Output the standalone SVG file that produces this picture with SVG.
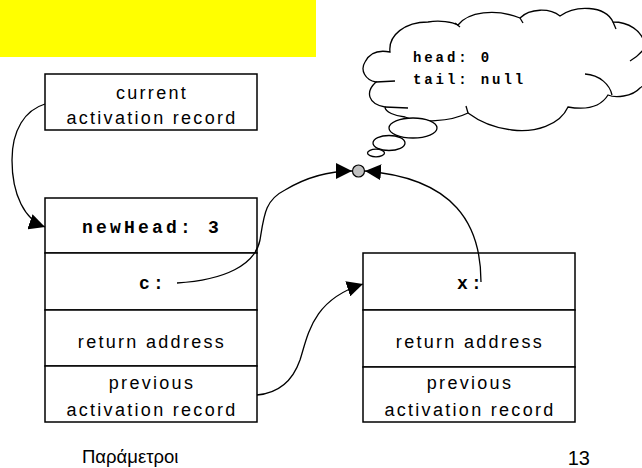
<svg xmlns="http://www.w3.org/2000/svg" width="642" height="468" viewBox="0 0 642 468">
  <style>
    .box { fill: #ffffff; stroke: #000000; stroke-width: 1.5; }
    .sans { font-family: "Liberation Sans", Arial, sans-serif; font-size: 18px; letter-spacing: 2.3px; fill: #000000; text-anchor: middle; }
    .mono { font-family: "Liberation Mono", "Courier New", monospace; font-size: 18px; font-weight: bold; letter-spacing: 3.2px; fill: #000000; }
    .monos { font-family: "Liberation Mono", "Courier New", monospace; font-size: 14px; font-weight: bold; letter-spacing: 2.9px; fill: #000000; }
    .conn { fill: none; stroke: #000000; stroke-width: 1.3; }
    .cloud { fill: #ffffff; stroke: #000000; stroke-width: 1.3; }
    .hook { fill: none; stroke: #000000; stroke-width: 1.3; }
    .foot { font-family: "Liberation Sans", Arial, sans-serif; fill: #000000; }
  </style>
  <defs>
    <marker id="arrow" markerUnits="userSpaceOnUse" markerWidth="16" markerHeight="16" viewBox="0 0 15 15" refX="15" refY="7.5" orient="auto">
      <path d="M0,0 L15,7.5 L0,15 Z" fill="#000000"/>
    </marker>
  </defs>

  <g id="title-bar">
    <rect x="0" y="0" width="316" height="57" fill="#ffff00"/>
  </g>

  <g id="current-record">
    <rect class="box" x="45" y="74" width="212" height="56"/>
    <text class="sans" x="152" y="99">current</text>
    <text class="sans" x="152" y="124">activation record</text>
  </g>

  <g id="left-frame">
    <rect class="box" x="45" y="198" width="212" height="55"/>
    <text class="mono" x="82" y="233">newHead: 3</text>
    <rect class="box" x="45" y="253" width="212" height="57"/>
    <text class="mono" x="139" y="289">c:</text>
    <rect class="box" x="45" y="310" width="212" height="56"/>
    <text class="sans" x="152" y="348">return address</text>
    <rect class="box" x="45" y="366" width="212" height="56"/>
    <text class="sans" x="152" y="389">previous</text>
    <text class="sans" x="152" y="416">activation record</text>
  </g>

  <g id="right-frame">
    <rect class="box" x="363" y="253" width="212" height="57"/>
    <text class="mono" x="457" y="289">x:</text>
    <rect class="box" x="363" y="310" width="212" height="57"/>
    <text class="sans" x="470" y="348">return address</text>
    <rect class="box" x="363" y="367" width="212" height="55"/>
    <text class="sans" x="470" y="389">previous</text>
    <text class="sans" x="470" y="416">activation record</text>
  </g>

  <g id="thought-cloud">
    <path class="cloud" d="M390,52 C388,35 405,22 428,22 C440,20 452,22 458,25 C468,12 495,8 520,18 C530,8 550,8 560,16 C575,5 605,5 613,22 C628,22 642,30 645,45 C654,60 652,80 640,88 C632,97 615,98 608,95 C600,108 585,110 568,107 C560,125 535,133 512,130 C495,128 480,122 468,113 C450,122 420,123 405,117 C395,116 385,112 385,107 C368,104 365,92 376,82 C365,80 360,70 365,62 C370,52 380,50 390,52 Z"/>
    <path class="hook" d="M376,82 L395,81"/>
    <path class="hook" d="M385,107 L408,108"/>
    <path class="hook" d="M585,74 C600,75 610,85 612,95"/>
    <path class="hook" d="M643,50 C639,55 635,58 630,61"/>
    <path class="hook" d="M455,23 L460,27"/>
    <path class="hook" d="M520,18 L523,23"/>
    <path class="hook" d="M613,22 L616,29"/>
    <path class="hook" d="M468,113 L466,106"/>
    <ellipse class="cloud" cx="413" cy="128" rx="24" ry="10"/>
    <ellipse class="cloud" cx="389" cy="143" rx="16" ry="7.5"/>
    <ellipse class="cloud" cx="376" cy="153" rx="8.5" ry="3.8"/>
    <text class="monos" x="413" y="62">head: 0</text>
    <text class="monos" x="413" y="84">tail: null</text>
  </g>

  <g id="target-dot">
    <circle cx="358.5" cy="171" r="6" fill="#c0c0c0" stroke="#000000" stroke-width="1.2"/>
  </g>

  <g id="connectors">
    <path class="conn" d="M45,104 C25,110 12,130 12,160 C12,195 25,220 45,227" marker-end="url(#arrow)"/>
    <path class="conn" d="M177,283 C225,280 255,265 260,240 C264,215 265,200 285,190 C305,178 325,171 352,171" marker-end="url(#arrow)"/>
    <path class="conn" d="M481,282 C481,225 455,178 365,171" marker-end="url(#arrow)"/>
    <path class="conn" d="M257,395 C280,393 293,380 300,360 C308,335 312,300 363,284" marker-end="url(#arrow)"/>
  </g>

  <g id="footer">
    <text class="foot" x="82" y="463" font-size="18.5">Παράμετροι</text>
    <text class="foot" x="590" y="465" font-size="20" text-anchor="end">13</text>
  </g>
</svg>
